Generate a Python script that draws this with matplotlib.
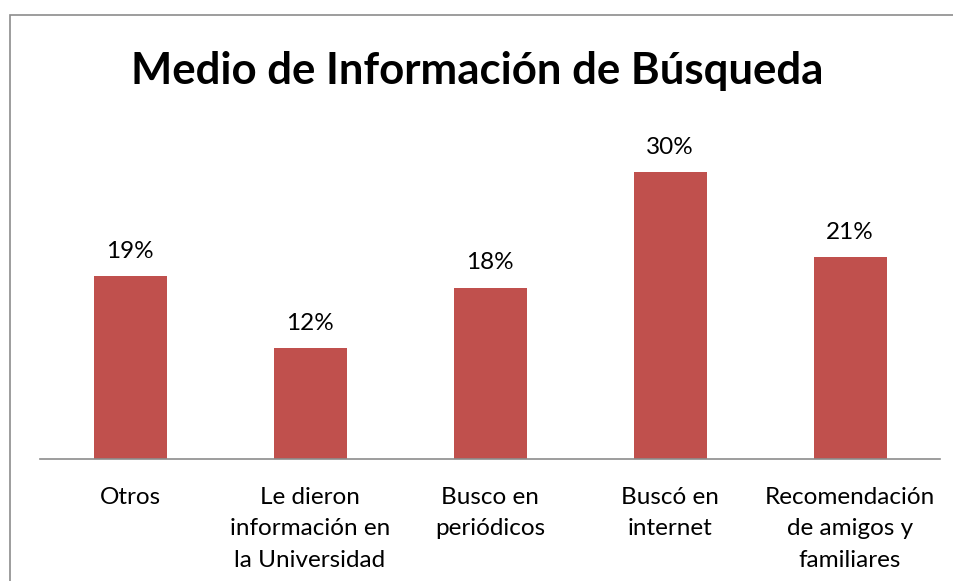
import matplotlib
matplotlib.use("Agg")
import matplotlib.pyplot as plt
from matplotlib.patches import Rectangle

categories = ["Otros", "Le dieron\ninformación en\nla Universidad", "Busco en\nperiódicos",
              "Buscó en\ninternet", "Recomendación\nde amigos y\nfamiliares"]
values = [19.1, 11.6, 17.9, 30.0, 21.1]
labels = ["19%", "12%", "18%", "30%", "21%"]

plt.rcParams['font.family'] = ['Lato', 'DejaVu Sans']

fig = plt.figure(figsize=(9.54, 5.81), dpi=100)
fig.patches.append(Rectangle((10/954, -0.1), 2, 1.1 - 15/581, transform=fig.transFigure,
                             fill=False, edgecolor='#8c8c8c', linewidth=1.2))
ax = fig.add_axes([40/954, 1 - 459/581, 900/954, (459 - 124)/581])
x = range(len(categories))
bars = ax.bar(x, values, width=73/180, color='#C0504D')
for b, lab in zip(bars, labels):
    ax.text(b.get_x() + b.get_width()/2, b.get_height() + 1.9, lab,
            ha='center', va='baseline', fontsize=17.5, color='black')
ax.set_xlim(-0.5, len(categories) - 0.5)
ax.set_ylim(0, 35)
ax.set_xticks(list(x))
ax.set_xticklabels(categories, fontsize=17.5, linespacing=1.63)
ax.tick_params(axis='x', length=0, pad=20)
ax.set_yticks([])
for s in ['top', 'right', 'left']:
    ax.spines[s].set_visible(False)
ax.spines['bottom'].set_color('#8c8c8c')
ax.spines['bottom'].set_linewidth(1.2)
fig.text(477/954, 1 - 71/581, "Medio de Información de Búsqueda", ha='center', va='center',
         fontsize=31.5, fontweight='bold')
fig.savefig("out.png", dpi=100)
